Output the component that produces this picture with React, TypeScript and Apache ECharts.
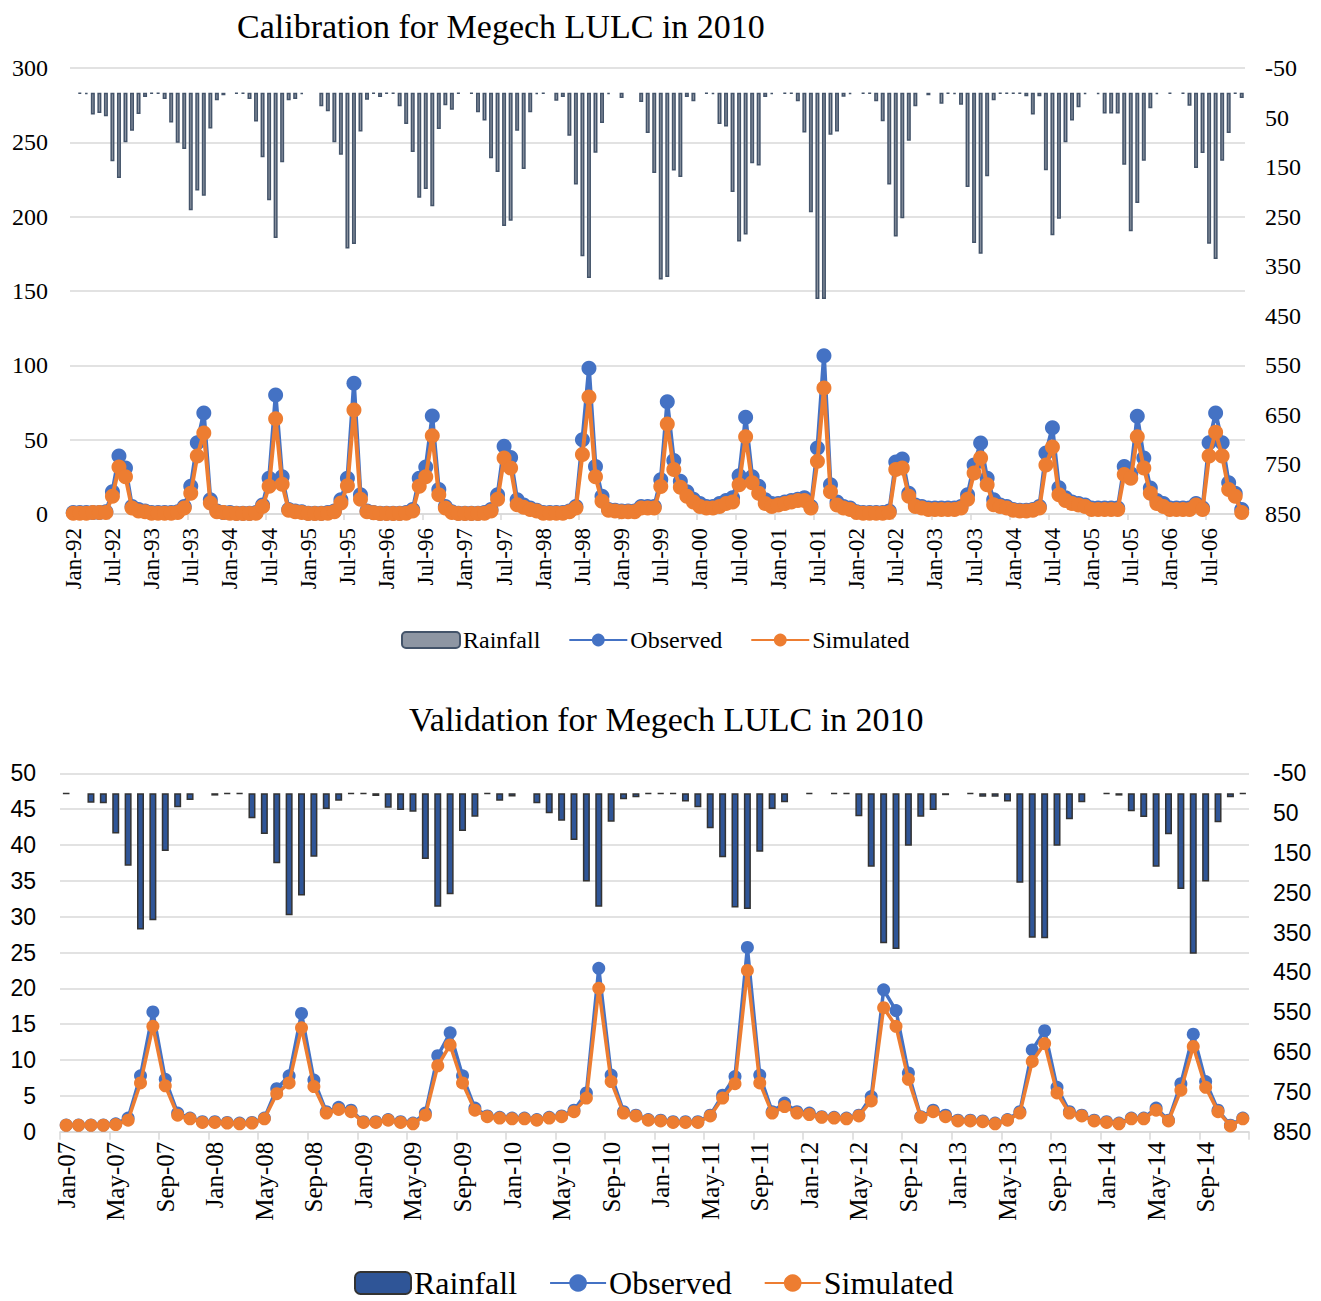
import React, { useEffect, useRef } from "react";
import * as echarts from "echarts";

const SERIF = "'Liberation Serif', 'Times New Roman', serif";
const SANS = "'Liberation Sans', Arial, sans-serif";
const BLUE = "#4472C4";
const ORANGE = "#ED7D31";
const GRID = "#D9D9D9";

const MONTHS = ["Jan", "Feb", "Mar", "Apr", "May", "Jun", "Jul", "Aug", "Sep", "Oct", "Nov", "Dec"];
const calYears = ["92", "93", "94", "95", "96", "97", "98", "99", "00", "01", "02", "03", "04", "05", "06"];
const valYears = ["07", "08", "09", "10", "11", "12", "13", "14"];
const calCategories = calYears.flatMap((y) => MONTHS.map((m) => `${m}-${y}`));
const valCategories = valYears.flatMap((y) => MONTHS.map((m) => `${m}-${y}`));

const rainTicks = [-50, 50, 150, 250, 350, 450, 550, 650, 750, 850];

// Calibration 1992-2006 (monthly)
const calRainfall = [
  0, 2, 3, 44, 41, 47.5, 138, 172, 100, 76.5, 43, 8.5,
  2, 2, 12.6, 60, 101, 113.5, 237, 197, 207.6, 72, 15, 5,
  0, 2, 2, 12.6, 58, 130, 217, 293, 140, 15, 12.6, 3,
  0, 0, 27, 37.5, 100, 125, 314, 305, 78, 14, 2, 8.5,
  2, 2, 27, 63, 119.5, 212, 194, 229, 73, 25, 34, 2,
  0, 2, 39.5, 56, 132, 160, 269, 258, 76.5, 154, 39.5, 3,
  2, 0, 16, 8.5, 86.6, 185, 330, 374, 121, 61, 3, 0,
  10.6, 0, 0, 18.7, 81, 162, 377, 372, 157, 170, 8.5, 17,
  0, 2, 3, 63, 68, 200, 300, 286, 142, 147, 8.5, 3,
  0, 2, 2, 17, 80, 241, 416, 416, 84.5, 78, 8, 3,
  0, 2, 2, 17, 57.6, 185, 290, 253, 96.6, 27.4, 0, 5,
  0, 22, 2, 3, 24, 190, 303, 325, 168.6, 15.3, 2, 2,
  2, 2, 7, 44, 7, 156.5, 287.6, 254, 100, 56, 29.4, 3,
  0, 3, 42, 42, 42, 145, 279.6, 222.4, 137, 31.4, 3, 0,
  2, 0, 2, 26, 152, 121.5, 304.5, 335.4, 137, 81, 2, 10.6,
];
const calObserved = [
  1, 1, 1, 1, 1, 1.5, 15, 39, 31, 5, 3, 2,
  1, 1, 1, 1, 1.5, 5, 18.6, 48, 68, 9.6, 2, 1,
  1, 0.5, 0.5, 0.5, 1, 6, 24, 80, 25, 3, 2, 1.5,
  0.5, 0.5, 0.5, 1, 2, 9.6, 24, 88, 13, 2, 1, 0.5,
  0.5, 0.5, 0.5, 1, 3, 24, 31.6, 66, 16.4, 5, 1.5, 0.5,
  0.5, 0.5, 0.5, 1, 3, 13, 45.5, 38, 9.6, 6, 4, 2.5,
  1, 1, 1, 1, 2, 5, 50, 98, 32, 12, 3, 2.5,
  2, 2, 2, 5, 5, 5, 23, 75.5, 36, 22, 15, 10,
  7, 5, 5, 7, 9, 11, 25.8, 65, 25, 18.6, 9.6, 7,
  7, 8, 9, 10, 11, 5, 44.4, 106.5, 19.7, 8, 5, 4,
  1.5, 1, 1, 1, 1, 2, 35, 37, 14, 6, 5, 4,
  4, 4, 4, 4, 5, 13, 33, 47.8, 24, 9.6, 6, 5,
  3, 2.5, 2.5, 3, 5, 41, 58, 17.7, 11, 8, 7, 6,
  4, 4, 4, 4, 4, 32, 27, 65.7, 37.7, 17.5, 9, 7,
  4, 4, 4, 4, 7, 4, 48, 68, 48, 21, 14, 3,
];
const calSimulated = [
  0.5, 0.5, 0.5, 1, 1, 1, 12, 31.6, 25, 4, 2, 1.5,
  0.5, 0.5, 0.5, 0.5, 1, 4, 14, 39, 54.5, 7.4, 1.5, 1,
  0.5, 0.3, 0.3, 0.3, 0.5, 5, 18.6, 64, 20, 2.5, 1.5, 1,
  0.3, 0.3, 0.3, 0.5, 1.5, 7.4, 19, 70, 10, 1.5, 0.8, 0.3,
  0.3, 0.3, 0.3, 0.5, 2, 18.6, 25, 52.7, 13, 4, 1, 0.3,
  0.3, 0.3, 0.3, 0.5, 2, 10, 37.7, 31, 6.3, 4.5, 3, 2,
  0.5, 0.5, 0.5, 0.5, 1.5, 4, 40, 78.7, 25, 8.5, 2.5, 2,
  1.5, 1.5, 1.5, 4, 4, 4, 18.5, 60.5, 30, 18, 12, 8,
  5, 4, 4, 5, 7, 8, 19.7, 52, 21, 14, 7, 5,
  6, 7, 8, 9, 9, 4, 35.4, 84.8, 15, 6, 4, 3,
  1, 0.5, 0.5, 0.5, 0.5, 1, 30, 31, 12, 5, 4, 3,
  3, 3, 3, 3, 4, 10, 27.5, 37.7, 19.7, 6.3, 5, 4,
  2.5, 2, 2, 2.5, 4, 33, 45, 13, 9, 7, 6, 5,
  3, 3, 3, 3, 3, 26.5, 24, 52, 31, 14, 7, 5,
  3, 3, 3, 3, 6, 3, 39, 55, 39, 16.4, 12, 1,
];

// Validation 2007-2014 (monthly)
const valRainfall = [
  1, 0, 24, 25.4, 101, 182, 342, 319, 145, 35.5, 17, 0,
  6, 2, 2, 63, 102.5, 176, 306.7, 257, 159.4, 39.7, 18.8, 2,
  2, 7, 36.3, 42, 46.4, 165, 285, 254, 95, 59, 2, 19,
  8, 0, 25, 50.6, 69, 117.5, 222, 285, 71.5, 15, 10, 2,
  2, 2, 21, 35.5, 88, 161, 287, 291, 147, 39.7, 23, 0,
  2, 0, 2, 2, 58, 184.5, 377, 391, 132, 59, 42, 5,
  0, 2, 8.7, 8.7, 21, 225, 363, 364.5, 132, 65.6, 23, 0,
  2, 6, 45, 60, 184.5, 103, 240.6, 403, 222, 73, 10, 2,
];
const valObserved = [
  0.93, 0.93, 0.93, 0.93, 1.1, 1.9, 7.8, 16.7, 7.3, 2.6, 1.9, 1.4,
  1.4, 1.3, 1.2, 1.3, 1.9, 6, 7.8, 16.5, 7.2, 2.8, 3.4, 3.0,
  1.4, 1.4, 1.7, 1.4, 1.2, 2.6, 10.6, 13.8, 7.8, 3.3, 2.2, 2.0,
  1.9, 1.9, 1.7, 2.0, 2.2, 3.0, 5.4, 22.8, 7.9, 2.8, 2.3, 1.7,
  1.6, 1.4, 1.4, 1.4, 2.3, 5.1, 7.7, 25.7, 7.9, 2.8, 4.0, 2.8,
  2.6, 2.1, 2.0, 1.9, 2.3, 4.9, 19.8, 16.9, 8.2, 2.1, 3.0, 2.3,
  1.6, 1.6, 1.5, 1.2, 1.7, 2.8, 11.4, 14.1, 6.2, 2.8, 2.3, 1.6,
  1.4, 1.2, 1.9, 1.9, 3.3, 1.6, 6.7, 13.6, 7.0, 3.0, 0.9, 1.9,
];
const valSimulated = [
  0.9, 0.9, 0.9, 0.9, 1.0, 1.6, 6.8, 14.7, 6.4, 2.3, 1.8, 1.3,
  1.3, 1.2, 1.1, 1.2, 1.8, 5.3, 6.8, 14.5, 6.3, 2.6, 3.1, 2.8,
  1.3, 1.3, 1.6, 1.3, 1.1, 2.3, 9.2, 12.1, 6.8, 3.0, 2.1, 1.9,
  1.8, 1.8, 1.6, 1.9, 2.1, 2.8, 4.7, 20.0, 7.0, 2.6, 2.2, 1.6,
  1.5, 1.3, 1.3, 1.3, 2.2, 4.7, 6.7, 22.5, 6.8, 2.6, 3.5, 2.6,
  2.4, 2.0, 1.9, 1.8, 2.2, 4.3, 17.3, 14.7, 7.3, 2.0, 2.8, 2.1,
  1.5, 1.5, 1.4, 1.1, 1.6, 2.6, 9.8, 12.3, 5.4, 2.6, 2.2, 1.5,
  1.3, 1.1, 1.8, 1.8, 3.0, 1.5, 5.8, 11.9, 6.2, 2.8, 0.8, 1.8,
];

// a zero-rain month draws no bar at all
const barData = (vals: number[]) => vals.map((v) => (v === 0 ? "-" : v));

function lineSeries(name: string, data: number[], color: string, size: number, width: number, z: number) {
  return {
    name,
    type: "line",
    data,
    xAxisIndex: 0,
    yAxisIndex: 0,
    symbol: "circle",
    symbolSize: size,
    showAllSymbol: true,
    clip: false,
    z,
    itemStyle: { color },
    lineStyle: { color, width },
  };
}

function calOption() {
  return {
    animation: false,
    backgroundColor: "#fff",
    title: {
      text: "Calibration for Megech LULC in 2010",
      left: 232,
      top: 4,
      textStyle: { fontFamily: SERIF, fontSize: 34, fontWeight: "normal", color: "#000" },
    },
    legend: {
      left: 396,
      top: 623,
      itemWidth: 58,
      itemHeight: 16,
      itemGap: 28,
      data: ["Rainfall", "Observed", "Simulated"],
      textStyle: { fontFamily: SERIF, fontSize: 24, color: "#000", padding: [0, 0, 0, -2] },
    },
    grid: { left: 70, right: 76, top: 68, height: 446 },
    xAxis: {
      type: "category",
      data: calCategories,
      boundaryGap: true,
      axisLine: { lineStyle: { color: GRID, width: 1.5 } },
      axisTick: { show: true, interval: 5, length: 6, lineStyle: { color: GRID, width: 1.5 } },
      axisLabel: { interval: 5, rotate: 90, margin: 14, fontFamily: SERIF, fontSize: 23, color: "#000" },
    },
    yAxis: [
      {
        type: "value",
        min: 0,
        max: 300,
        interval: 50,
        position: "left",
        axisLine: { show: false },
        axisTick: { show: false },
        axisLabel: { margin: 22, fontFamily: SERIF, fontSize: 24, color: "#000" },
        splitLine: { lineStyle: { color: GRID, width: 1.5 } },
      },
      {
        type: "value",
        min: -50,
        max: 850,
        inverse: true,
        position: "right",
        axisLine: { show: false },
        axisTick: { show: false },
        splitLine: { show: false },
        axisLabel: {
          customValues: rainTicks,
          margin: 20,
          fontFamily: SERIF,
          fontSize: 24,
          color: "#000",
          showMinLabel: true,
          showMaxLabel: true,
        },
      },
    ],
    series: [
      {
        name: "Rainfall",
        type: "bar",
        data: barData(calRainfall),
        xAxisIndex: 0,
        yAxisIndex: 1,
        barWidth: 4,
        z: 1,
        itemStyle: { color: "#8E96A3", borderColor: "#44546A", borderWidth: 1.5 },
      },
      lineSeries("Observed", calObserved, BLUE, 15, 4, 2),
      lineSeries("Simulated", calSimulated, ORANGE, 15, 4, 3),
    ],
  };
}

function valOption() {
  return {
    animation: false,
    backgroundColor: "#fff",
    title: {
      text: "Validation for Megech LULC in 2010",
      left: 404,
      top: 32,
      textStyle: { fontFamily: SERIF, fontSize: 34, fontWeight: "normal", color: "#000" },
    },
    legend: {
      left: 349,
      top: 597,
      itemWidth: 56,
      itemHeight: 22,
      itemGap: 32,
      data: ["Rainfall", "Observed", "Simulated"],
      textStyle: { fontFamily: SERIF, fontSize: 32, color: "#000", padding: [0, 0, 0, -2] },
    },
    grid: { left: 60, right: 72, top: 108.3, height: 358.4 },
    xAxis: {
      type: "category",
      data: valCategories,
      boundaryGap: true,
      axisLine: { lineStyle: { color: GRID, width: 1.5 } },
      axisTick: { show: true, interval: 3, length: 8, lineStyle: { color: GRID, width: 1.5 } },
      axisLabel: { interval: 3, rotate: 90, margin: 10, fontFamily: SERIF, fontSize: 25, color: "#000" },
    },
    yAxis: [
      {
        type: "value",
        min: 0,
        max: 50,
        interval: 5,
        position: "left",
        axisLine: { show: false },
        axisTick: { show: false },
        axisLabel: { margin: 24, fontFamily: SANS, fontSize: 23, color: "#000" },
        splitLine: { lineStyle: { color: GRID, width: 1.5 } },
      },
      {
        type: "value",
        min: -50,
        max: 850,
        inverse: true,
        position: "right",
        axisLine: { show: false },
        axisTick: { show: false },
        splitLine: { show: false },
        axisLabel: {
          customValues: rainTicks,
          margin: 24,
          fontFamily: SANS,
          fontSize: 23,
          color: "#000",
          showMinLabel: true,
          showMaxLabel: true,
        },
      },
    ],
    series: [
      {
        name: "Rainfall",
        type: "bar",
        data: barData(valRainfall),
        xAxisIndex: 0,
        yAxisIndex: 1,
        barWidth: 7,
        z: 1,
        itemStyle: { color: "#2F5597", borderColor: "#333333", borderWidth: 1.5 },
      },
      lineSeries("Observed", valObserved, BLUE, 13, 3.5, 2),
      lineSeries("Simulated", valSimulated, ORANGE, 13, 3.5, 3),
    ],
  };
}

function ChartBox({ option, top, height }: { option: any; top: number; height: number }) {
  const ref = useRef<HTMLDivElement>(null);
  useEffect(() => {
    if (!ref.current) return;
    const chart = echarts.init(ref.current, undefined, { renderer: "svg" });
    chart.setOption(option);
    return () => chart.dispose();
  }, [option]);
  return <div ref={ref} style={{ position: "absolute", left: 0, top, width: 1321, height }} />;
}

const CAL = calOption();
const VAL = valOption();

export default function App() {
  return (
    <div style={{ position: "absolute", left: 0, top: 0, width: 1321, height: 1301, background: "#fff", overflow: "hidden" }}>
      <ChartBox option={CAL} top={0} height={665} />
      <ChartBox option={VAL} top={665} height={636} />
    </div>
  );
}
